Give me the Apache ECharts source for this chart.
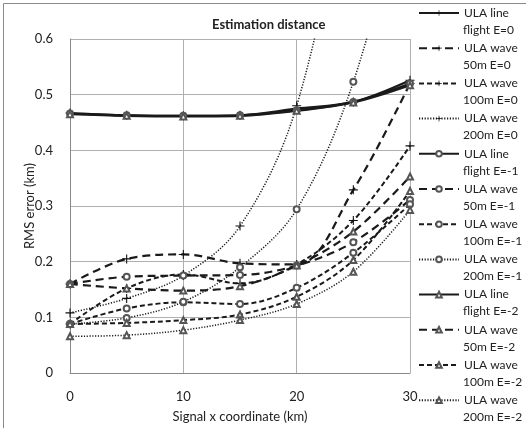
<!DOCTYPE html>
<html>
<head>
<meta charset="utf-8">
<script src="https://cdn.jsdelivr.net/npm/echarts@6/dist/echarts.min.js"></script>
<style>html,body{margin:0;padding:0;background:#fff}#c{width:526px;height:428px}</style>
</head>
<body>
<div id="c"></div>
<script>
const xValues = [0, 5, 10, 15, 20, 25, 30];
const seriesNames = [
  'ULA line\nflight E=0', 'ULA wave\n50m E=0', 'ULA wave\n100m E=0', 'ULA wave\n200m E=0',
  'ULA line\nflight E=-1', 'ULA wave\n50m E=-1', 'ULA wave\n100m E=-1', 'ULA wave\n200m E=-1',
  'ULA line\nflight E=-2', 'ULA wave\n50m E=-2', 'ULA wave\n100m E=-2', 'ULA wave\n200m E=-2'
];
const lineFlightE0 = [0.467, 0.463, 0.462, 0.463, 0.475, 0.487, 0.526];
const wave50E0     = [0.160, 0.205, 0.213, 0.197, 0.195, 0.329, 0.520];
const wave100E0    = [0.088, 0.152, 0.177, 0.161, 0.195, 0.274, 0.408];
const wave200E0    = [0.108, 0.134, 0.175, 0.264, 0.480, 0.950, 1.500];
const lineFlightE1 = [0.466, 0.463, 0.462, 0.463, 0.472, 0.487, 0.520];
const wave50E1     = [0.160, 0.173, 0.175, 0.176, 0.193, 0.235, 0.311];
const wave100E1    = [0.088, 0.116, 0.127, 0.124, 0.153, 0.216, 0.303];
const wave200E1    = [0.088, 0.099, 0.128, 0.190, 0.294, 0.523, 0.900];
const lineFlightE2 = [0.465, 0.462, 0.461, 0.462, 0.471, 0.486, 0.517];
const wave50E2     = [0.160, 0.152, 0.148, 0.156, 0.193, 0.254, 0.353];
const wave100E2    = [0.088, 0.090, 0.095, 0.105, 0.137, 0.203, 0.327];
const wave200E2    = [0.066, 0.068, 0.077, 0.095, 0.124, 0.182, 0.293];
const yTicks = [0, 0.1, 0.2, 0.3, 0.4, 0.5, 0.6];
const xTicks = [0, 10, 20, 30];

const allValues = [lineFlightE0, wave50E0, wave100E0, wave200E0,
  lineFlightE1, wave50E1, wave100E1, wave200E1,
  lineFlightE2, wave50E2, wave100E2, wave200E2];

const plusSym = 'path://M4.4,0H5.6V4.4H10V5.6H5.6V10H4.4V5.6H0V4.4H4.4Z';
const styles = [
  {type: 'solid', w: 2.2},
  {type: [8, 5], w: 2.2},
  {type: [5, 3], w: 2},
  {type: [1.2, 1.6], w: 1.5}
];
const markers = [
  {symbol: plusSym, size: 9, empty: false},
  {symbol: 'emptyCircle', size: 6, empty: true},
  {symbol: 'emptyTriangle', size: 6, empty: true}
];

const series = allValues.map((vals, i) => {
  const st = styles[i % 4];
  const mk = markers[Math.floor(i / 4)];
  return {
    name: seriesNames[i],
    type: 'line',
    smooth: 0.35,
    clip: true,
    data: xValues.map((x, j) => [x, vals[j]]),
    symbol: mk.symbol,
    symbolSize: mk.size,
    symbolKeepAspect: true,
    showAllSymbol: true,
    lineStyle: {color: '#1a1a1a', width: st.w, type: st.type},
    itemStyle: mk.empty ? {color: '#555', borderColor: '#555', borderWidth: 1} : {color: '#111'},
    emphasis: {disabled: true},
    z: 2 + (i % 4 === 0 ? 1 : 0)
  };
});

// legend geometry
const legendLeft = 418, legendTop = 6, legendStep = 35.2, legendIconW = 40;
const secondLines = seriesNames.map((n, i) => ({
  type: 'text',
  x: legendLeft + legendIconW + 5,
  y: legendTop + 7 + 17 + i * legendStep,
  style: {text: n.split('\n')[1], fill: '#222', font: '12px Lato', verticalAlign: 'middle', align: 'left'}
}));

const chart = echarts.init(document.getElementById('c'), null, {renderer: 'canvas'});
chart.setOption({
  animation: false,
  backgroundColor: '#fff',
  textStyle: {fontFamily: 'Lato'},
  title: {
    text: 'Estimation distance',
    left: 207, top: 13,
    textStyle: {fontFamily: 'Lato', fontSize: 13, fontWeight: 'bold', color: '#222'}
  },
  graphic: [{
    type: 'rect', left: 1, top: 1, z: -1,
    shape: {width: 523, height: 425},
    style: {fill: 'none', stroke: '#8a8a8a', lineWidth: 1}
  }].concat(secondLines),
  grid: {left: 70, right: 116, top: 39, bottom: 55},
  legend: {
    orient: 'vertical',
    left: legendLeft, top: legendTop,
    padding: 0,
    itemGap: legendStep - 14,
    itemWidth: legendIconW,
    itemHeight: 7,
    data: seriesNames,
    formatter: n => n.split('\n')[0],
    textStyle: {fontFamily: 'Lato', fontSize: 12, color: '#222', lineHeight: 14}
  },
  xAxis: {
    type: 'value', min: 0, max: 30, interval: 10,
    name: 'Signal x coordinate (km)', nameLocation: 'middle', nameGap: 37,
    nameMoveOverlap: false,
    nameTextStyle: {fontFamily: 'Lato', fontSize: 13, color: '#222'},
    axisLine: {show: true, lineStyle: {color: '#888', width: 1}},
    axisTick: {show: false},
    axisLabel: {fontFamily: 'Lato', fontSize: 13, color: '#222', margin: 17,
      formatter: v => xTicks.includes(v) ? String(v) : ''},
    splitLine: {show: true, lineStyle: {color: '#b0b0b0', width: 1}}
  },
  yAxis: {
    type: 'value', min: 0, max: 0.6, interval: 0.1,
    name: 'RMS error (km)', nameLocation: 'middle', nameGap: 34,
    nameMoveOverlap: false,
    nameTextStyle: {fontFamily: 'Lato', fontSize: 13, color: '#222'},
    axisLine: {show: true, lineStyle: {color: '#888', width: 1}},
    axisTick: {show: false},
    axisLabel: {fontFamily: 'Lato', fontSize: 13, color: '#222', margin: 17,
      formatter: v => { const t = yTicks.find(k => Math.abs(k - v) < 1e-9); return t === undefined ? '' : String(t); }},
    splitLine: {show: true, lineStyle: {color: '#b0b0b0', width: 1}}
  },
  series: series
});
</script>
</body>
</html>
